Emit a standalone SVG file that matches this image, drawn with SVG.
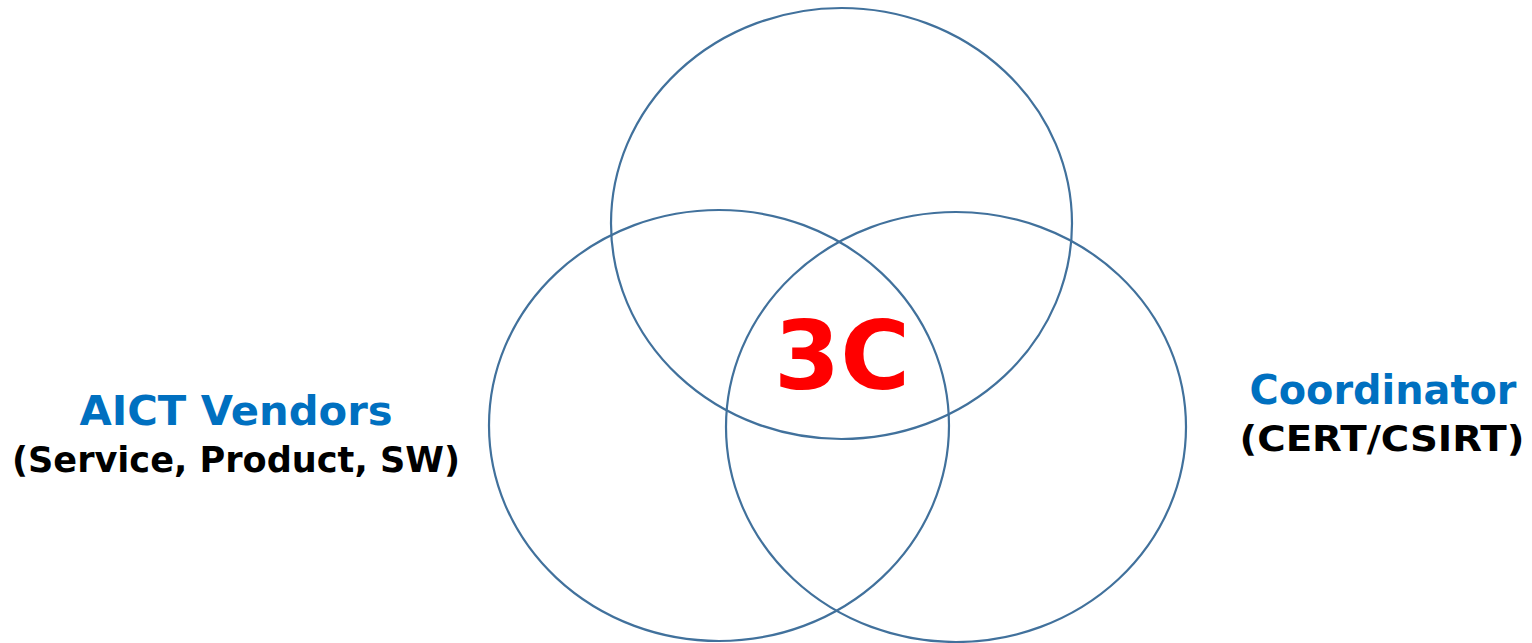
<svg xmlns="http://www.w3.org/2000/svg" width="1532" height="643" viewBox="0 0 1532 643">
<style>
.c{fill:none;stroke:#41719C;stroke-width:2.2}
.t{font-family:"DejaVu Sans",Verdana,sans-serif;font-weight:bold;text-anchor:middle}
.h{fill:#0070C0;font-size:40px}
.s{fill:#000;font-size:35.5px}
</style>
<rect width="1532" height="643" fill="#fff"/>
<g id="circles">
<g id="top"><ellipse class="c" cx="841.5" cy="223.5" rx="230.5" ry="215.5"/></g>
<g id="left"><ellipse class="c" cx="719" cy="425.5" rx="230" ry="215.5"/></g>
<g id="right"><ellipse class="c" cx="956" cy="427" rx="230" ry="215"/></g>
</g>
<g id="center"><text class="t" x="842" y="389" fill="#FF0000" font-size="95">3C</text></g>
<g id="vendors">
<text class="t h" x="236" y="425" textLength="313" lengthAdjust="spacingAndGlyphs">AICT Vendors</text>
<text class="t s" x="236" y="472" textLength="448" lengthAdjust="spacingAndGlyphs">(Service, Product, SW)</text>
</g>
<g id="coordinator">
<text class="t h" x="1383" y="404" textLength="267" lengthAdjust="spacingAndGlyphs">Coordinator</text>
<text class="t s" x="1382" y="451" textLength="285" lengthAdjust="spacingAndGlyphs">(CERT/CSIRT)</text>
</g>
</svg>
